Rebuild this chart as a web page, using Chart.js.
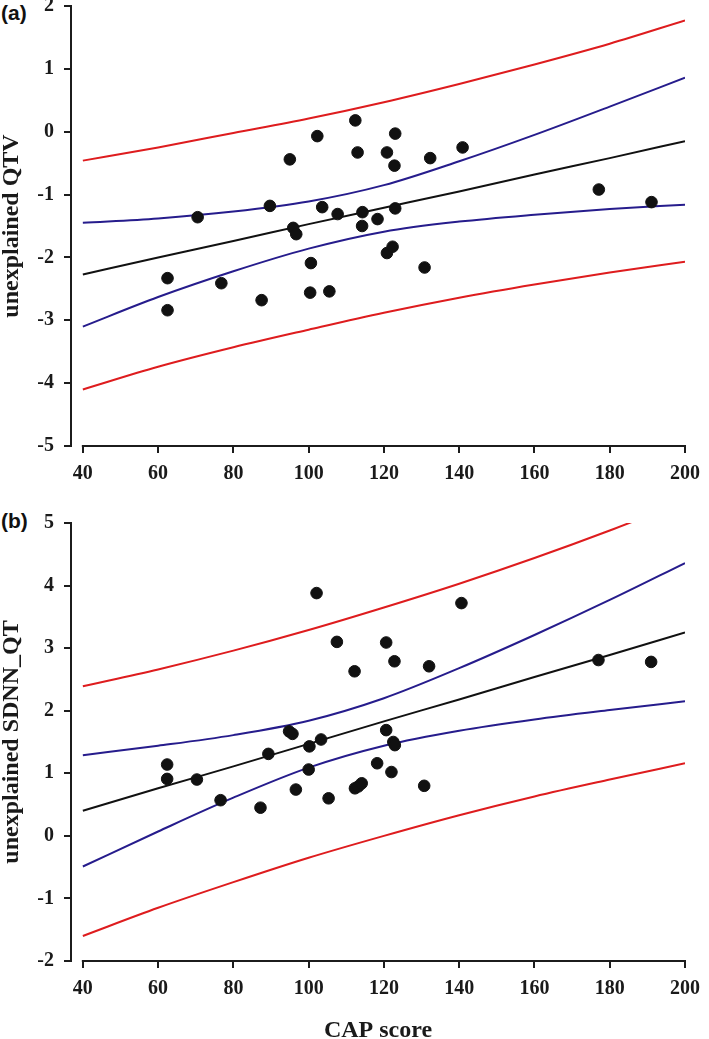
<!DOCTYPE html>
<html>
<head>
<meta charset="utf-8">
<script src="https://cdn.jsdelivr.net/npm/chart.js@4.4.1/dist/chart.umd.min.js"></script>
<style>
  html, body { margin: 0; padding: 0; background: #fff; overflow: hidden; width: 709px; height: 1039px; }
  canvas { position: absolute; left: 0; }
  #chartA { top: -20px; }
  #chartB { top: 500px; }
  .tag { position: absolute; left: 1px; font: bold 21px 'Liberation Sans', Arial, sans-serif; line-height: 1; color: #111; }
</style>
</head>
<body>
<div class="tag" style="top:2px">(a)</div>
<div class="tag" style="top:510px">(b)</div>
<canvas id="chartA" width="709" height="510"></canvas>
<canvas id="chartB" width="709" height="560"></canvas>
<script>
// x ticks (CAP score) shared by both panels
const xTicks = [40, 60, 80, 100, 120, 140, 160, 180, 200];
const bandX = [40, 60, 80, 100, 120, 140, 160, 180, 200];

// panel (a): unexplained QTV
const capA = [62.5, 62.5, 70.5, 76.8, 87.5, 89.7, 95.0, 95.9, 96.7, 100.6, 100.4, 102.3, 103.6, 105.5, 107.7,
  112.4, 113.0, 114.3, 114.2, 118.3, 120.8, 120.8, 122.3, 122.8, 123.0, 123.0, 130.8, 132.3, 140.9, 177.1, 191.1];
const qtv = [-2.33, -2.84, -1.36, -2.41, -2.68, -1.18, -0.44, -1.53, -1.63, -2.09, -2.56, -0.07, -1.20, -2.54, -1.31,
  0.18, -0.33, -1.28, -1.50, -1.39, -0.33, -1.93, -1.83, -0.54, -0.03, -1.22, -2.16, -0.42, -0.25, -0.92, -1.12];
const fitA  = [-2.27, -2.00, -1.74, -1.47, -1.21, -0.95, -0.68, -0.42, -0.15];
const ciUpA = [-1.45, -1.38, -1.27, -1.11, -0.85, -0.47, -0.05, 0.40, 0.86];
const ciLoA = [-3.10, -2.63, -2.22, -1.86, -1.59, -1.43, -1.32, -1.23, -1.16];
const piUpA = [-0.46, -0.25, -0.02, 0.21, 0.47, 0.76, 1.07, 1.40, 1.77];
const piLoA = [-4.10, -3.74, -3.43, -3.15, -2.88, -2.64, -2.43, -2.24, -2.07];

// panel (b): unexplained SDNN_QT
const capB = [62.4, 62.4, 70.3, 76.6, 87.2, 89.3, 94.8, 95.7, 96.6, 100.0, 100.2, 102.1, 103.3, 105.3, 107.5,
  112.2, 112.3, 113.2, 114.1, 118.2, 120.6, 120.6, 122.0, 122.8, 122.5, 122.9, 130.7, 132.0, 140.6, 177.0, 191.0];
const sdnn = [1.14, 0.91, 0.90, 0.57, 0.45, 1.31, 1.67, 1.63, 0.74, 1.06, 1.43, 3.88, 1.54, 0.60, 3.10,
  2.63, 0.76, 0.79, 0.84, 1.16, 3.09, 1.69, 1.02, 2.79, 1.50, 1.45, 0.80, 2.71, 3.72, 2.81, 2.78];
const fitB  = [0.40, 0.76, 1.11, 1.47, 1.83, 2.18, 2.54, 2.89, 3.25];
const ciUpB = [1.29, 1.44, 1.61, 1.84, 2.20, 2.68, 3.21, 3.77, 4.36];
const ciLoB = [-0.49, 0.07, 0.61, 1.09, 1.44, 1.68, 1.86, 2.01, 2.15];
const piUpB = [2.39, 2.66, 2.96, 3.29, 3.65, 4.03, 4.44, 4.88, 5.35];
const piLoB = [-1.60, -1.15, -0.74, -0.35, 0.00, 0.33, 0.63, 0.90, 1.16];

const axisColor = '#1c1c1c';
const red = 'rgb(222, 28, 30)';
const blue = 'rgb(38, 28, 140)';
const serif = "'Liberation Serif', 'Times New Roman', serif";

const pts = (xs, ys) => xs.map((x, i) => ({x: x, y: ys[i]}));

function curve(ys, color) {
  return {
    data: pts(bandX, ys),
    showLine: true,
    borderColor: color,
    borderWidth: 2,
    pointRadius: 0,
    cubicInterpolationMode: 'monotone'
  };
}

// x axis line only runs from 40 to 200 (gap at the y axis)
const xAxisLine = {
  id: 'xAxisLine',
  afterDraw(chart) {
    const {ctx, chartArea, scales: {x}} = chart;
    ctx.save();
    ctx.strokeStyle = axisColor;
    ctx.lineWidth = 2;
    ctx.beginPath();
    ctx.moveTo(x.getPixelForValue(xTicks[0]) - 1, chartArea.bottom);
    ctx.lineTo(x.getPixelForValue(xTicks[xTicks.length - 1]) + 1, chartArea.bottom);
    ctx.stroke();
    ctx.restore();
  }
};

function panel(id, xs, ys, fit, ciUp, ciLo, piUp, piLo, yMin, yMax, yTitle, xTitle, padTop, xBox) {
  new Chart(document.getElementById(id), {
    type: 'scatter',
    data: {
      datasets: [
        {
          data: pts(xs, ys),
          backgroundColor: '#111',
          borderColor: '#111',
          pointRadius: 5.8,
          pointHoverRadius: 5.8
        },
        curve(fit, '#111'),
        curve(ciUp, blue),
        curve(ciLo, blue),
        curve(piUp, red),
        curve(piLo, red)
      ]
    },
    plugins: [xAxisLine],
    options: {
      responsive: false,
      animation: false,
      layout: { padding: { top: padTop, right: 16, left: 0, bottom: 0 } },
      scales: {
        x: {
          type: 'linear',
          min: 40 - 12 / 3.8125,
          max: 200,
          afterBuildTicks: s => { s.ticks = xTicks.map(v => ({value: v})); },
          afterFit: s => { s.height = xBox; },
          border: { display: false },
          grid: { drawOnChartArea: false, drawTicks: true, tickLength: 7, lineWidth: 2, color: axisColor },
          ticks: { color: '#1a1a1a', padding: 9, maxRotation: 0, font: { family: serif, size: 20, weight: 'bold' } },
          title: {
            display: !!xTitle,
            text: xTitle,
            color: '#1a1a1a',
            padding: { top: 0, bottom: 17 },
            font: { family: serif, size: 24, weight: 'bold', lineHeight: 1 }
          }
        },
        y: {
          min: yMin,
          max: yMax,
          afterFit: s => { s.width = 71; },
          border: { display: true, color: axisColor, width: 2 },
          grid: { drawOnChartArea: false, drawTicks: true, tickLength: 7, lineWidth: 2, color: axisColor },
          ticks: { stepSize: 1, color: '#1a1a1a', padding: 10, font: { family: serif, size: 20, weight: 'bold' } },
          title: {
            display: true,
            text: yTitle,
            color: '#1a1a1a',
            padding: 0,
            font: { family: serif, size: 24, weight: 'bold', lineHeight: 1 }
          }
        }
      },
      plugins: {
        legend: { display: false },
        tooltip: { enabled: false }
      }
    }
  });
}

panel('chartA', capA, qtv, fitA, ciUpA, ciLoA, piUpA, piLoA, -5, 2, 'unexplained QTV', '', 26, 44);
panel('chartB', capB, sdnn, fitB, ciUpB, ciLoB, piUpB, piLoB, -2, 5, 'unexplained SDNN_QT', 'CAP score', 23, 99);
</script>
</body>
</html>
